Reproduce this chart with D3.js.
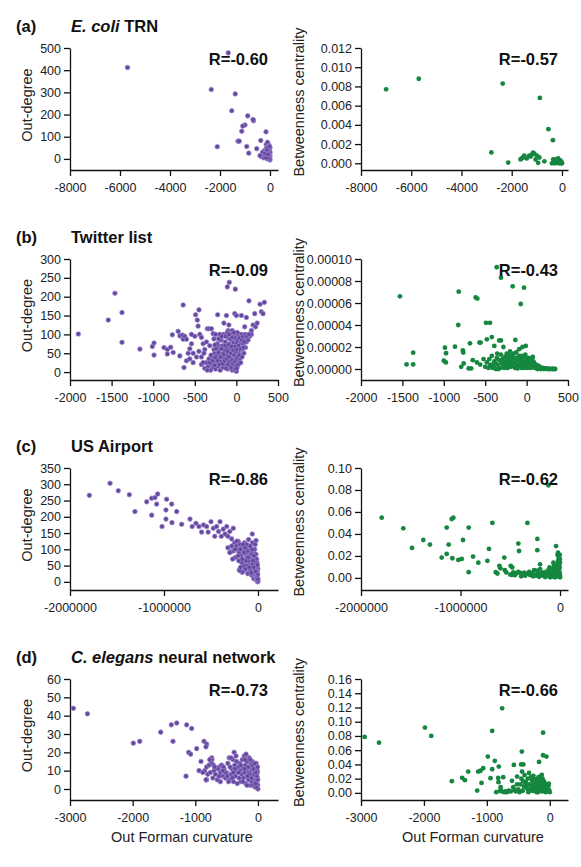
<!DOCTYPE html>
<html>
<head>
<meta charset="utf-8">
<script src="https://cdn.jsdelivr.net/npm/d3@7"></script>
<style>
  body { margin: 0; background: #fff; }
  text { font-family: "Liberation Sans", Arial, sans-serif; }
</style>
</head>
<body>
<svg width="581" height="867"></svg>
<script>
// panel titles and correlation labels
var rowLetters = ["(a)", "(b)", "(c)", "(d)"];
var rowTitles = [
  [["E. coli", true], [" TRN", false]],
  [["Twitter list", false]],
  [["US Airport", false]],
  [["C. elegans", true], [" neural network", false]]
];
var rDegree = ["R=-0.60", "R=-0.09", "R=-0.86", "R=-0.73"];
var rBetween = ["R=-0.57", "R=-0.43", "R=-0.62", "R=-0.66"];

// axis extents and tick labels
var xDomDeg = [[-8000, 320], [-2000, 500], [-2000000, 213000], [-3000, 320]];
var xDomBtw = [[-8000, 240], [-2000, 500], [-2000000, 80000], [-3000, 290]];
var yDomDeg = [[-50, 500], [-21, 300], [-25, 350], [-6, 60]];
var yDomBtw = [[-0.0007, 0.012], [-0.00001, 0.0001], [-0.011, 0.1], [-0.01, 0.16]];
var xTicks = [
  [-8000, -6000, -4000, -2000, 0],
  [-2000, -1500, -1000, -500, 0, 500],
  [-2000000, -1000000, 0],
  [-3000, -2000, -1000, 0]
];
var yTicksDeg = [
  [0, 100, 200, 300, 400, 500],
  [0, 50, 100, 150, 200, 250, 300],
  [0, 50, 100, 150, 200, 250, 300, 350],
  [0, 10, 20, 30, 40, 50, 60]
];
var yTicksBtw = [
  [0, 0.002, 0.004, 0.006, 0.008, 0.010, 0.012],
  [0, 0.00002, 0.00004, 0.00006, 0.00008, 0.0001],
  [0, 0.02, 0.04, 0.06, 0.08, 0.10],
  [0, 0.02, 0.04, 0.06, 0.08, 0.10, 0.12, 0.14, 0.16]
];
var yFmtBtw = [".3f", ".5f", ".2f", ".2f"];

// (a) E. coli TRN
var ecoliDeg = [[-5700,412],[-1670,478],[-2350,313],[-1390,293],[-1530,217],[-890,194],[-660,172],[-680,178],
  [-1000,153],[-1090,148],[-1130,125],[-2110,55],[-1280,80],[-1230,80],[-930,56],[-850,26],[-160,122],[-370,83],
  [-530,46],[-300,15],[-350,10],[-250,30],[-200,40],[-150,65],[-100,75],[-80,50],[-50,45],[0,50],[-20,35],[-10,20],
  [0,10],[-30,5],[-120,20],[-180,10],[-250,5],[-100,0],[0,-5],[-60,30],[-150,35],[-220,20],[-300,30],[-10,0],[-40,15],
  [-90,10],[-130,50],[-30,60],[-70,5],[0,30],[-160,5],[-200,25],[-110,40],[-50,25],[-20,55],[-80,20],[-400,15]];
var ecoliBtw = [[-7000,0.0077],[-5700,0.0088],[-2360,0.0083],[-880,0.0068],[-540,0.00355],[-360,0.0024],
  [-2810,0.00113],[-2140,0.00007],[-1650,0.0004],[-1550,0.0006],[-1500,0.0008],[-1400,0.0005],[-1300,0.0008],
  [-1200,0.0009],[-1150,0.0011],[-1100,0.001],[-1050,0.0004],[-1000,0.0008],[-950,0.00005],[-900,0.0006],
  [-700,0.0002],[-1250,0.0007],[-1600,0.0005],[-350,0.0004],[-300,0.0002],[-250,0.0001],[-200,0.0003],
  [-150,0.0005],[-100,0.0002],[-50,0.0001],[0,0],[-20,0.00005],[-80,0.0001],[-400,0],[-120,0],[-180,0.0001],
  [-250,0.0004],[-60,0.0003],[-30,0],[-280,0],[-220,0.00005],[-130,0.00015],[-10,0.0001],[-330,0.0001]];

// (b) Twitter list
var twitterDeg = [[-1900,101],[-1540,138],[-1460,209],[-1375,158],[-1375,79],[-1160,61],[-1010,68],[-990,77],
  [-990,45],[-870,65],[-830,60],[-830,48],[-790,66],[-770,99],[-760,52],[-700,108],[-680,96],[-650,98],[-640,87],
  [-620,95],[-600,87],[-680,43],[-630,12],[-640,178],[-560,62],[-540,75],[-520,50],[-500,95],[-490,152],[-470,138],
  [-460,122],[-450,165],[-440,100],[-420,92],[-400,75],[-380,60],[-350,115],[-330,115],[-300,115],[-280,102],
  [-250,100],[-225,152],[-180,85],[-150,130],[-120,150],[-100,110],[-90,125],[-85,238],[-109,226],[-13,220],
  [-20,155],[0,150],[40,100],[60,150],[100,120],[151,189],[120,145],[180,110],[200,125],[220,155],[230,120],
  [250,130],[284,180],[300,160],[320,155],[336,185],[-600,30],[-560,35],[-520,25],[-480,40],[-450,55],[-420,20],
  [-580,50],[-540,100],[-360,80],[-320,70],[-270,88],[-220,70],[-200,100],
  [-380,10],[-360,25],[-340,15],[-330,35],[-310,5],[-300,20],[-290,40],[-280,12],[-270,30],[-260,50],[-250,8],
  [-240,22],[-235,45],[-220,15],[-210,35],[-200,60],[-195,5],[-185,28],[-175,48],[-170,70],[-160,12],[-150,38],
  [-145,58],[-135,80],[-130,20],[-120,45],[-115,65],[-105,8],[-100,30],[-95,90],[-90,55],[-85,75],[-80,15],
  [-75,40],[-70,100],[-65,62],[-60,25],[-55,85],[-50,5],[-45,48],[-40,70],[-35,95],[-30,18],[-25,35],[-20,58],
  [-15,80],[-10,10],[-8,42],[-5,100],[0,2],[0,25],[0,65],[0,88],[5,50],[10,15],[15,70],[20,30],[25,95],[30,55],
  [40,35],[45,80],[55,45],[60,100],[70,60],[80,75],[90,50],[100,90],[110,65],[120,80],[140,85],[160,95],[180,100],
  [-270,60],[-230,75],[-190,85],[-155,100],[-110,105],[-50,110],[10,105],
  [-350,5],[-320,25],[-305,45],[-285,30],[-265,18],[-255,38],[-245,62],[-225,30],[-215,52],[-205,20],[-190,40],
  [-180,62],[-165,22],[-155,48],[-140,30],[-138,70],[-125,10],[-112,35],[-108,55],[-98,20],[-92,72],[-88,40],
  [-78,28],[-72,88],[-68,50],[-62,12],[-58,68],[-52,32],[-48,92],[-42,22],[-38,58],[-32,78],[-28,45],[-22,8],
  [-18,28],[-12,68],[-10,90],[-6,55],[-4,18],[-2,35],[2,78],[4,10],[8,60],[12,40],[18,85],[22,20],[28,70],
  [35,45],[38,90],[50,62],[52,25],[65,85],[68,40],[78,95],[85,65],[95,80],[105,100],[125,95],[150,100],[-260,72],
  [-215,88],[-175,95],[-130,95],[-90,100],[-30,105],[-400,25],[-420,40],[-390,50]];
var twitterBtw = [[-1530,0.0000661],[-1370,0.0000148],[-1450,0.0000042],[-1370,0.0000042],[-820,0.0000703],
  [-825,0.00004],[-615,0.000065],[-595,0.000064],[-490,0.000042],[-442,0.000042],[-361,0.0000925],[-309,0.000083],
  [-168,0.0000752],[-31,0.0000739],[-71,0.0000591],[-986,0.0000194],[-973,0.0000143],[-865,0.0000203],
  [-770,0.000017],[-765,0.000015],[-684,0.0000233],[-570,0.000024],[-555,0.000024],[-480,0.000027],
  [-420,0.000029],[-330,0.000026],[-310,0.000026],[-136,0.0000264],[-90,0.000018],[-50,0.00002],[-10,0.000021],
  [-1000,0.0000075],[-975,0.000006],[-790,0.000002],[-760,0.000005],[-700,0.0000005],[-670,0.0000005],
  [-650,0.000008],[-600,0.000006],[-560,0.000004],[-520,0.000009],[-390,0.000021],[-280,0.00002],[-200,0.000016],
  [-500,0.000002],[-480,0.000006],[-460,0.000001],[-450,0.000009],[-430,0.000004],[-420,0.000012],[-400,0.000002],
  [-390,0.000007],[-370,0],[-360,0.00001],[-350,0.000004],[-330,0.000008],[-320,0.000001],[-310,0.000013],
  [-300,0.000005],[-290,0.000009],[-280,0.000002],[-270,0.000006],[-260,0.000011],[-250,0.000003],[-240,0.000008],
  [-230,0.000001],[-220,0.000005],[-210,0.000012],[-200,0.000007],[-190,0.000002],[-180,0.000009],[-170,0.000004],
  [-160,0.000014],[-150,0.000006],[-140,0.000001],[-130,0.00001],[-120,0.000004],[-110,0.000008],[-100,0.000002],
  [-90,0.000012],[-80,0.000005],[-70,0.000009],[-60,0.000001],[-50,0.000007],[-40,0.000003],[-30,0.000011],
  [-20,0.000005],[-10,0.000008],[0,0.000002],[10,0.000006],[20,0.00001],[30,0.000003],[40,0.000007],[50,0.000001],
  [60,0.000005],[70,0.000009],[80,0.000003],[90,0.000006],[100,0.000001],[110,0.000004],[120,0.000002],[130,0],
  [140,0.000003],[150,0.000001],[170,0],[190,0.000001],[210,0],[230,0.0000005],[250,0],[270,0],[290,0],[310,0],
  [330,0],[345,0],[-440,0.000003],[-410,0.000001],[-380,0.000005],[-340,0],[-270,0.000001],[-230,0.000009],
  [-190,0.000012],[-150,0.00001],[-110,0.0000005],[-70,0.0000015],[-30,0.000001],[10,0.000001],[50,0.0000095],
  [75,0.000011],[-15,0.000013],[-55,0.000012],[-125,0.000015],[-240,0.000014],[-355,0.000014],[160,0.000002],
  [200,0.0000008],[240,0.0000003],[280,0.0000002],[320,0.0000001]];

// (c) US Airport
var airportDeg = [[-1794000,266],[-1574000,303],[-1486000,280],[-1369000,268],[-1309000,216],[-1184000,246],
  [-1131000,205],[-1131000,257],[-1096000,259],[-1067000,270],[-1078000,239],[-1021000,170],[-979000,221],
  [-972000,254],[-979000,193],[-918000,239],[-915000,182],[-865000,216],[-812000,177],[-723000,193],[-660000,180],
  [-700000,170],[-628000,170],[-600000,153],[-580000,175],[-546000,170],[-530000,153],[-500000,185],[-475000,165],
  [-460000,140],[-440000,170],[-420000,155],[-404000,185],[-390000,140],[-370000,162],[-350000,147],[-333000,170],
  [-320000,140],[-300000,155],[-280000,132],[-263000,165],[-287000,93],[-60600,147],[-21000,127],[-199000,37],
  [-170000,30],[-140000,35],[-110000,45],[-250000,120],[-230000,110],[-220000,100],[-210000,125],[-200000,90],
  [-190000,115],[-180000,80],[-170000,105],[-160000,95],[-150000,70],[-145000,120],[-140000,60],[-130000,85],
  [-125000,100],[-120000,50],[-115000,75],[-110000,110],[-100000,40],[-95000,90],[-90000,60],[-85000,30],
  [-80000,80],[-75000,100],[-70000,50],[-65000,20],[-60000,70],[-55000,40],[-50000,90],[-45000,10],[-40000,55],
  [-35000,30],[-30000,65],[-25000,15],[-20000,45],[-15000,5],[-12000,35],[-10000,60],[-8000,20],[-5000,0],
  [-3000,10],[-2000,40],[0,2],[-18000,25],[-28000,50],[-38000,75],[-48000,25],[-58000,55],[-68000,85],[-78000,35],
  [-88000,95],[-98000,65],[-108000,25],[-118000,90],[-135000,40],[-155000,50],[-165000,30],[-175000,60],
  [-195000,35],[-205000,65],[-240000,75],[-260000,95],[-280000,110],[-300000,90],[-320000,105],[-270000,70],
  [-185000,45],[-35000,100],[-22000,85],[-60000,120],[-100000,130],[-120000,115],[-30000,115],
  [-6000,28],[-9000,48],[-14000,70],[-16000,18],[-24000,58],[-32000,38],[-42000,80],[-52000,65],[-62000,100],
  [-72000,28],[-82000,110],[-92000,45],[-104000,75],[-112000,95],[-128000,65],[-138000,105],[-148000,90],
  [-158000,115],[-168000,70],[-188000,100],[-212000,80],[-225000,125],[-245000,100],[-4000,22],[-7000,52],
  [-11000,12],[-1000,8],[-26000,32],[-46000,45]];
var airportBtw = [[-1792000,0.0548],[-1575000,0.0451],[-1487000,0.0273],[-1374000,0.0345],[-1307000,0.0303],
  [-1189000,0.0185],[-1139000,0.0458],[-1139000,0.0218],[-1119000,0.0303],[-1089000,0.0536],[-1072000,0.0548],
  [-1082000,0.0179],[-1022000,0.0164],[-988000,0.0173],[-975000,0.0345],[-918000,0.0458],[-918000,0.0052],
  [-874000,0.0194],[-821000,0.0139],[-730000,0.0155],[-714000,0.0264],[-680000,0.05],[-646000,0.0052],
  [-630000,0.004],[-610000,0.011],[-600000,0.0088],[-560000,0.0185],[-555000,0.007],[-540000,0.005],
  [-496000,0.011],[-480000,0.0095],[-486000,0.0027],[-419000,0.0312],[-412000,0.0245],[-328000,0.05],
  [-228000,0.0355],[-228000,0.0252],[-201000,0.0124],[-117000,0.0843],[-40000,0.029],[-25000,0.021],
  [-20000,0.023],[-15000,0.02],[-67000,0.0139],
  [-470000,0.005],[-440000,0.004],[-420000,0.0055],[-400000,0.0045],[-380000,0.003],[-360000,0.0048],
  [-340000,0.0035],[-320000,0.004],[-300000,0.0025],[-280000,0.0042],[-260000,0.003],[-240000,0.002],
  [-220000,0.0038],[-200000,0.0028],[-185000,0.0045],[-170000,0.002],[-160000,0.005],[-150000,0.0035],
  [-140000,0.0015],[-130000,0.004],[-120000,0.0025],[-110000,0.006],[-100000,0.0018],[-95000,0.0045],
  [-90000,0.003],[-85000,0.008],[-80000,0.0012],[-75000,0.005],[-70000,0.0025],[-65000,0.009],[-60000,0.0035],
  [-55000,0.0015],[-50000,0.006],[-45000,0.011],[-40000,0.003],[-35000,0.0075],[-30000,0.0015],[-28000,0.013],
  [-25000,0.005],[-22000,0.0095],[-20000,0.0025],[-18000,0.016],[-15000,0.007],[-12000,0.0035],[-10000,0.012],
  [-8000,0.0015],[-6000,0.018],[-5000,0.009],[-4000,0.005],[-3000,0.021],[-2000,0.0025],[-1000,0.014],[0,0.0005],
  [-500000,0.003],[-455000,0.0025],[-390000,0.0015],[-350000,0.002],[-310000,0.0055],[-270000,0.0015],
  [-230000,0.0065],[-210000,0.001],[-125000,0.0065],[-105000,0.0095],[-60000,0.012],[-15000,0.0195],
  [-200000,0.008],[-260000,0.007],[-50000,0.0005],[-100000,0.0005],[-150000,0.0008],[-30000,0.0085],
  [-8000,0.0105],[-2000,0.0165]];

// (d) C. elegans neural network
var celegansDeg = [[-2946,44],[-2722,41],[-1989,25],[-1887,26],[-1552,31],[-1383,35],[-1297,36],[-1356,26],
  [-1138,35],[-1058,33],[-1148,7],[-1106,20],[-1074,19],[-978,22],[-909,15],[-941,10],[-861,26],[-818,24.5],
  [-830,23],[-738,17],[-735,16],[-818,5],
  [-850,10],[-820,12],[-800,8],[-780,13],[-760,9],[-740,14],[-720,6],[-700,10],[-680,8],[-650,5],[-620,12],
  [-600,9],[-580,13],[-560,7],[-540,11],[-520,6],[-500,9],[-480,14],[-460,17],[-450,5],[-430,8],[-420,11],
  [-400,16],[-390,4],[-380,20],[-370,13],[-360,7],[-350,10],[-340,15],[-330,3],[-320,9],[-310,12],[-300,6],
  [-290,14],[-280,10],[-270,4],[-260,8],[-250,16],[-240,12],[-230,6],[-220,18],[-210,9],[-200,13],[-195,3],
  [-190,19],[-180,7],[-170,11],[-160,15],[-150,5],[-145,9],[-140,17],[-130,12],[-120,2],[-115,7],[-110,14],
  [-100,10],[-95,4],[-90,15],[-85,8],[-80,12],[-75,2],[-70,6],[-65,10],[-60,13],[-55,5],[-50,9],[-45,1],[-40,7],
  [-35,11],[-30,4],[-25,8],[-20,12],[-15,3],[-10,6],[-8,9],[-5,2],[0,0],[-3,5],[-12,10],[-22,1],[-28,14],
  [-180,15],[-350,18],[-430,17],[-470,4],[-550,12],[-640,11],[-710,13],[-830,5],[-770,16],[-880,9],[-410,6],
  [-600,4],[-520,9],[-240,4],[-205,16],[-175,2],[-155,12],[-125,16],[-105,6],[-88,13],[-62,8],[-48,14],[-38,3],
  [-18,7],[-6,12],[-32,9],[-72,11],[-135,8],[-165,7],[-215,11],[-275,13],[-305,9],[-365,11],[-395,9],[-445,12],
  [-490,7],[-560,10],[-620,7],[-690,12]];
var celegansBtw = [[-2942,0.0786],[-2714,0.0706],[-1984,0.0917],[-1884,0.08],[-1556,0.0164],[-1392,0.0211],
  [-1349,0.0178],[-1296,0.03],[-1153,0.0033],[-1138,0.03],[-1100,0.0311],[-1084,0.014],[-1058,0.0346],
  [-984,0.051],[-942,0.0206],[-915,0.0332],[-915,0.087],[-873,0.045],[-810,0.037],[-820,0.021],[-815,0.015],
  [-757,0.1188],[-740,0.022],[-571,0.0393],[-519,0.0229],[-520,0.012],[-444,0.058],[-455,0.04],[-420,0.04],
  [-170,0.0435],[-106,0.0846],[-106,0.0529],[-53,0.051],[-127,0.0253],
  [-500,0.005],[-470,0.012],[-450,0.02],[-430,0.003],[-410,0.009],[-400,0.025],[-380,0.015],[-360,0.006],
  [-350,0.02],[-340,0.001],[-320,0.012],[-300,0.022],[-290,0.008],[-280,0.017],[-270,0.003],[-260,0.024],
  [-250,0.013],[-240,0.006],[-230,0.019],[-220,0.01],[-210,0.001],[-200,0.016],[-190,0.007],[-180,0.022],
  [-170,0.012],[-160,0.004],[-150,0.018],[-140,0.009],[-130,0.014],[-120,0.002],[-110,0.011],[-100,0.006],
  [-90,0.016],[-80,0.003],[-70,0.009],[-60,0.012],[-50,0.005],[-40,0.008],[-30,0.002],[-20,0.01],[-10,0.004],
  [0,0.001],[-15,0.013],[-65,0.001],[-115,0.02],[-185,0.001],[-235,0.011],[-275,0.02],[-310,0.004],[-370,0.01],
  [-420,0.016],[-480,0.001],[-540,0.002],[-580,0.008],[-620,0.002],[-650,0.003],[-680,0.001],[-700,0.002],
  [-720,0.001],[-760,0.002],[-790,0.003],[-600,0.017],[-560,0.004],[-440,0.03],[-330,0.028],[-250,0.003],
  [-140,0.023],[-850,0.001],[-780,0.008]];

var degData = [ecoliDeg, twitterDeg, airportDeg, celegansDeg];
var btwData = [ecoliBtw, twitterBtw, airportBtw, celegansBtw];

var svg = d3.select("svg");
var rowTop = [48, 259, 468, 679],
    rowBottom = [170, 380, 590, 800];
var colX = [[70, 278], [361, 568]];
var purple = "#6646a0", green = "#15873f";

function hyphen(s) { return s.replace(/\u2212/g, "-"); }

function drawPanel(row, col, data, xDom, yDom, yTicks, yFmt, color, rText, yLabel) {
  var x = d3.scaleLinear().domain(xDom).range(colX[col]);
  var y = d3.scaleLinear().domain(yDom).range([rowBottom[row], rowTop[row]]);
  var g = svg.append("g");

  var xAxis = g.append("g")
      .attr("transform", "translate(0," + rowBottom[row] + ")")
      .call(d3.axisBottom(x).tickValues(xTicks[row]).tickSize(6).tickSizeOuter(0).tickPadding(7)
        .tickFormat(function(d) { return String(d); }));
  var yAxis = g.append("g")
      .attr("transform", "translate(" + colX[col][0] + ",0)")
      .call(d3.axisLeft(y).tickValues(yTicks).tickSize(6).tickSizeOuter(0).tickPadding(3)
        .tickFormat(function(d) { return hyphen(d3.format(yFmt)(d)); }));

  [xAxis, yAxis].forEach(function(a) {
    a.selectAll("path, line").attr("stroke", "#111").attr("stroke-width", 1.3);
    a.selectAll("text").attr("fill", "#222").style("font-size", "12.5px")
        .style("font-family", '"Liberation Sans", Arial, sans-serif');
  });

  g.append("g").selectAll("circle")
    .data(data)
    .enter().append("circle")
      .attr("cx", function(d) { return x(d[0]); })
      .attr("cy", function(d) { return y(d[1]); })
      .attr("r", col === 0 ? 2.3 : 2.4)
      .attr("fill", color)
      .attr("stroke", col === 0 ? "#9b88cc" : "none")
      .attr("stroke-width", 0.7);

  g.append("text")
      .attr("x", colX[col][1] - 10)
      .attr("y", rowTop[row] + 17)
      .attr("text-anchor", "end")
      .style("font-size", "16.5px")
      .style("font-weight", "bold")
      .attr("fill", "#111")
      .text(rText);

  var cy = (rowTop[row] + rowBottom[row]) / 2 - (col === 0 ? 4 : 7);
  var lx = col === 0 ? 27 : 299;
  g.append("text")
      .attr("transform", "translate(" + lx + "," + cy + ") rotate(-90)")
      .attr("text-anchor", "middle")
      .attr("dy", "0.35em")
      .style("font-size", "14.5px")
      .attr("fill", "#222")
      .text(yLabel);

  if (row === 3) {
    g.append("text")
        .attr("x", col === 0 ? 182 : 473)
        .attr("y", 842)
        .attr("text-anchor", "middle")
        .style("font-size", "14.5px")
        .attr("fill", "#222")
        .text("Out Forman curvature");
  }
}

rowLetters.forEach(function(letter, i) {
  svg.append("text")
      .attr("x", 16)
      .attr("y", rowTop[i] - 16)
      .style("font-size", "16.5px")
      .style("font-weight", "bold")
      .attr("fill", "#111")
      .text(letter);

  var t = svg.append("text")
      .attr("x", 71)
      .attr("y", rowTop[i] - 16)
      .style("font-size", "16.5px")
      .style("font-weight", "bold")
      .attr("fill", "#111");
  rowTitles[i].forEach(function(part) {
    t.append("tspan")
        .style("font-style", part[1] ? "italic" : "normal")
        .text(part[0]);
  });

  drawPanel(i, 0, degData[i], xDomDeg[i], yDomDeg[i], yTicksDeg[i], "d", purple, rDegree[i], "Out-degree");
  drawPanel(i, 1, btwData[i], xDomBtw[i], yDomBtw[i], yTicksBtw[i], yFmtBtw[i], green, rBetween[i], "Betweenness centrality");
});
</script>
</body>
</html>
